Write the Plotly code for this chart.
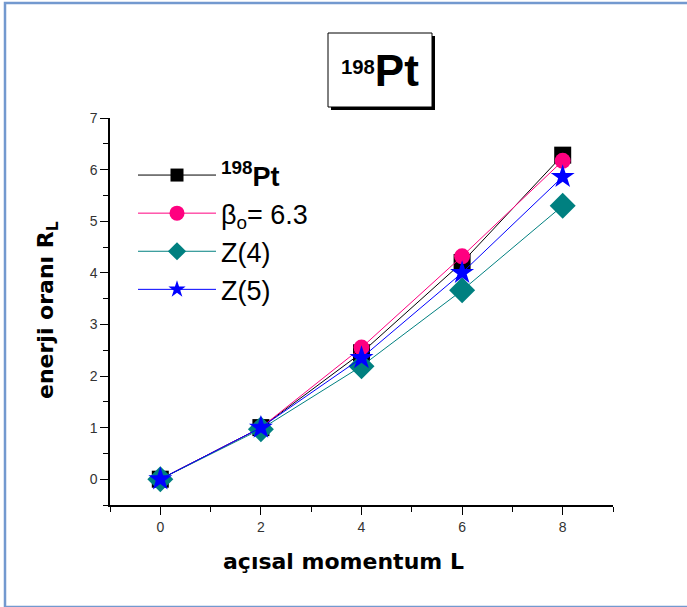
import plotly.graph_objects as go

L = [0, 2, 4, 6, 8]
exp_pt = [0, 1.0, 2.45, 4.2, 6.28]
beta_63 = [0, 1.0, 2.55, 4.32, 6.17]
z4 = [0, 0.97, 2.19, 3.66, 5.30]
z5 = [0, 1.0, 2.35, 4.00, 5.86]

names = ["<sup><b>198</b></sup><b>Pt</b>", "β<sub>o</sub>= 6.3", "Z(4)", "Z(5)"]
series = [exp_pt, beta_63, z4, z5]
colors = ["#000000", "#FF0080", "#008080", "#0000FF"]
symbols = ["square", "circle", "diamond", "star"]
sizes = [17, 16, 20, 18]
legend_sizes = [13, 15, 14, 13]

fig = go.Figure()
for i, (nm, ys, c, sy, sz) in enumerate(zip(names, series, colors, symbols, sizes)):
    fig.add_trace(go.Scatter(
        x=L, y=ys, name=nm, mode="lines+markers",
        line=dict(color=c, width=1),
        marker=dict(symbol=sy, size=sz, color=c, line=dict(width=0)),
        legendgroup=str(i), showlegend=False,
    ))
# legend entries (no data drawn)
for i, (nm, c, sy, sz) in enumerate(zip(names, colors, symbols, legend_sizes)):
    fig.add_trace(go.Scatter(
        x=[None], y=[None], name=nm, mode="lines+markers",
        line=dict(color=c, width=1),
        marker=dict(symbol=sy, size=sz, color=c, line=dict(width=0)),
        legendgroup=str(i), showlegend=True,
    ))

# plot area in px: x 110..613, y 118..505
W, H = 687, 607
ml, mr, mt, mb = 110, 74, 118, 102
pw, ph = W - ml - mr, H - mt - mb

def px(x):
    return (x - ml) / pw

def py(y):
    return (H - mb - y) / ph

shapes = [
    # outer blue frame
    dict(type="rect", xref="paper", yref="paper",
         x0=px(5), x1=px(690), y0=py(607), y1=py(3),
         line=dict(color="#7399cf", width=2.5)),
    # title box shadow
    dict(type="rect", xref="paper", yref="paper",
         x0=px(331), x1=px(435), y0=py(110), y1=py(36),
         line=dict(width=0), fillcolor="black"),
    # title box
    dict(type="rect", xref="paper", yref="paper",
         x0=px(328), x1=px(432), y0=py(107), y1=py(33),
         line=dict(color="black", width=1), fillcolor="white"),
]

annotations = [
    dict(text="<b><sup>198</sup><span style='font-size:44px'>Pt</span></b>",
         xref="paper", yref="paper",
         x=px(380), y=py(70), showarrow=False, xanchor="center", yanchor="middle",
         font=dict(family="Liberation Sans, Arial", size=29, color="black")),
    dict(text="<b>açısal momentum L</b>", xref="paper", yref="paper",
         x=px(343), y=py(561), showarrow=False, xanchor="center", yanchor="middle",
         font=dict(family="DejaVu Sans", size=22, color="black")),
    dict(text="<b>enerji oranı R<sub>L</sub></b>", xref="paper", yref="paper",
         x=px(47), y=py(310), showarrow=False, xanchor="center", yanchor="middle",
         textangle=-90,
         font=dict(family="DejaVu Sans", size=22, color="black")),
]

axis_font = dict(family="Liberation Sans, Arial", size=14, color="#333333")

fig.update_layout(
    width=W, height=H,
    margin=dict(l=ml, r=mr, t=mt, b=mb, pad=0),
    paper_bgcolor="white", plot_bgcolor="white",
    shapes=shapes, annotations=annotations,
    showlegend=True,
    legend=dict(x=px(133), y=py(151), xanchor="left", yanchor="top",
                font=dict(family="Liberation Sans, Arial", size=27, color="black"),
                bgcolor="rgba(0,0,0,0)", itemwidth=78, tracegroupgap=14,
                traceorder="normal"),
    xaxis=dict(range=[-1, 9], tickvals=[0, 2, 4, 6, 8], ticks="outside", ticklen=8,
               tickwidth=1.2, tickcolor="black", showline=True, linecolor="black",
               linewidth=1.5, showgrid=False, zeroline=False, tickfont=axis_font,
               minor=dict(dtick=1, tick0=-1, ticks="outside", ticklen=5, tickcolor="black", showgrid=False)),
    yaxis=dict(range=[-0.5, 7], tickvals=[0, 1, 2, 3, 4, 5, 6, 7], ticks="outside", ticklen=8,
               tickwidth=1.2, tickcolor="black", showline=True, linecolor="black",
               linewidth=1.5, showgrid=False, zeroline=False, tickfont=axis_font,
               minor=dict(dtick=0.5, tick0=0, ticks="outside", ticklen=5, tickcolor="black", showgrid=False)),
)

fig.write_html("out.html", config={"displayModeBar": False},
               post_script="document.body.style.margin='0px';")
